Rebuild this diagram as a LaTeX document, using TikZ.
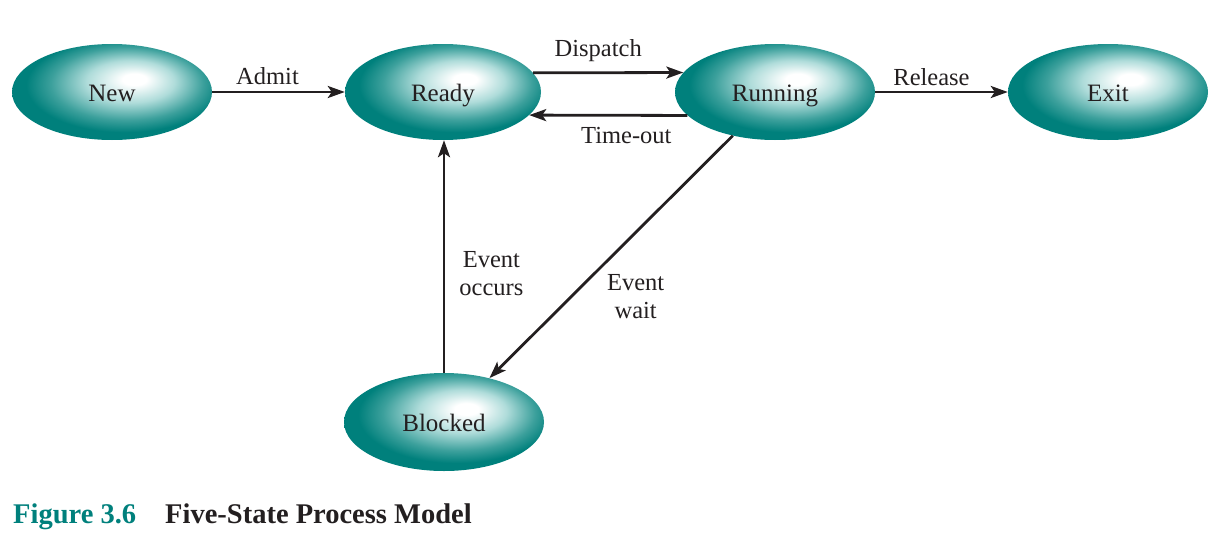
\documentclass[tikz,border=0pt]{standalone}
\usepackage{fontspec}
\setmainfont{Liberation Serif}
\usetikzlibrary{shapes.geometric,arrows.meta}
\definecolor{tealE}{RGB}{0,128,124}
\definecolor{tealM}{RGB}{60,160,156}
\definecolor{tealL}{RGB}{175,220,218}
\definecolor{ink}{RGB}{35,31,32}
\pgfdeclareradialshading{glow}{\pgfpoint{6bp}{7bp}}{color(0bp)=(white); color(3bp)=(white); color(11bp)=(tealL); color(19bp)=(tealM); color(24.5bp)=(tealE); color(50bp)=(tealE)}
\begin{document}
\begin{tikzpicture}[x=1pt,y=-1pt,
  state/.style={ellipse, minimum width=200pt, minimum height=96pt, inner sep=0pt, text height=18pt, text depth=0pt, shading=glow, font=\fontsize{25}{30}\selectfont, text=ink},
  arr/.style={draw=ink, line width=2.8pt, -{Stealth[length=17pt,width=12pt,inset=4pt]}},
  lab/.style={font=\fontsize{24.5}{28}\selectfont, text=ink, inner sep=0pt, align=center},
  captext/.style={anchor=base west, inner sep=0pt, font=\fontsize{28.5}{34}\selectfont\bfseries}]
\useasboundingbox (0,0) rectangle (1218,541);
\node[state] (new) at (112,92) {New};
\node[state, minimum width=196pt] (ready) at (443,92) {Ready};
\node[state] (run) at (775,92) {Running};
\node[state] (exit) at (1108,92) {Exit};
\node[state, minimum height=98pt] (blk) at (444,422) {Blocked};

\draw[arr] (new.east) -- node[lab, anchor=base, xshift=-11pt, yshift=8pt] {Admit} (ready.west);
\draw[arr] (ready.12) -- node[lab, anchor=base, xshift=-10pt, yshift=16pt] {Dispatch} (run.168);
\draw[arr] (run.195) -- node[lab, anchor=base, xshift=18pt, yshift=-28pt] {Time-out} (ready.-15);
\draw[arr] (run.east) -- node[lab, anchor=base, xshift=-10pt, yshift=7pt] {Release} (exit.west);
\draw[arr] (run.226) -- node[lab, pos=0.67, anchor=west, xshift=36pt, yshift=2pt] {Event\\wait} (blk.44);
\draw[arr] (blk.north) -- node[lab, pos=0.425, anchor=west, xshift=14pt] {Event\\occurs} (blk.north |- ready.south);

\node[captext, text=tealE] (figno) at (13,523) {Figure 3.6};
\node[captext, text=ink] (title) at (165,523) {Five-State Process Model};
\end{tikzpicture}
\end{document}
